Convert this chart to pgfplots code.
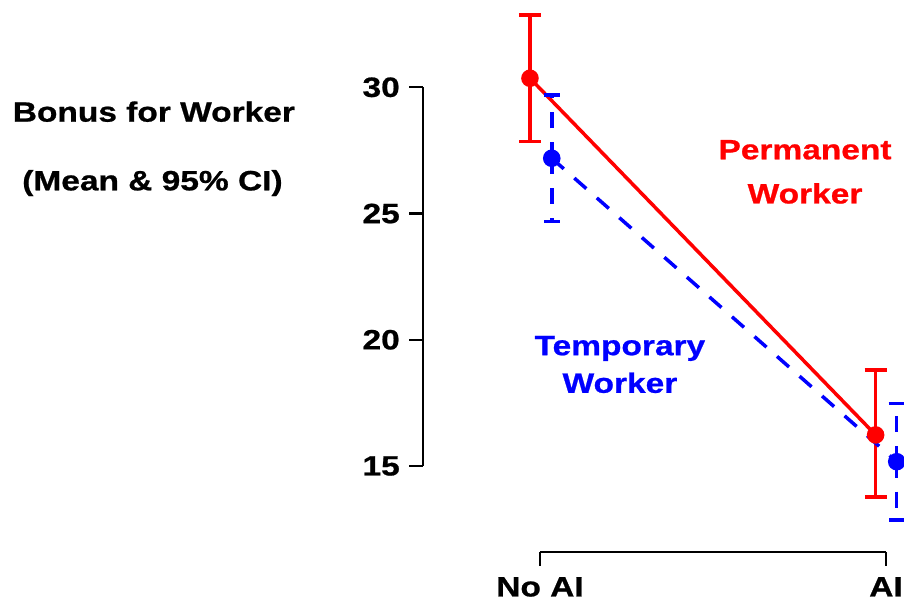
\documentclass[border=0pt]{standalone}
\usepackage{fontspec}
\setmainfont{Liberation Sans}[FakeStretch=1.2, BoldFeatures={FakeBold=0.8}]
\usepackage{pgfplots}
\pgfplotsset{compat=1.18}
\newcommand\F{\fontsize{28}{34}\selectfont\bfseries}
\begin{document}
\begin{tikzpicture}
\useasboundingbox (-423.3bp,-50.3bp) rectangle (480.7bp,551.7bp);
\begin{axis}[
 at={(0,0)}, anchor=south west, scale only axis,
 width=480.7bp, height=551.7bp,
 xmin=-0.3373, xmax=1.052, ymin=11.605, ymax=33.459,
 axis x line*=bottom, axis y line*=left,
 axis line style={draw=none},
 xtick={0,1}, xticklabels={No AI, AI},
 ytick={15,20,25,30},
 tick align=outside,
 major tick length=14bp,
 tick style={black, line width=2.2bp},
 tick label style={font=\F},
 yticklabel style={xshift=-6bp},
 xticklabel style={yshift=-8bp},
 /pgf/number format/assume math mode=true,
 clip=false,
 minor tick num=0,
]
\addplot[red, line width=3.5bp, mark=*, mark size=7bp,
  error bars/.cd, y dir=both, y explicit, error mark=|,
  error bar style={line width=3.5bp},
  error mark options={red, line width=3.5bp, mark size=11bp}]
  coordinates {(-0.029,30.36) +- (0,2.5) (0.970,16.23) += (0,2.57) -= (0,2.45)};
\addplot[blue, line width=3.5bp, dash pattern=on 16bp off 14bp, mark=*, mark size=7bp, mark options={solid},
  error bars/.cd, y dir=both, y explicit, error mark=|,
  error bar style={line width=3.5bp, dash pattern=on 16bp off 14bp},
  error mark options={blue, solid, line width=3.5bp, mark size=8bp}]
  coordinates {(0.034,27.19) +- (0,2.5) (1.031,15.17) +- (0,2.3)};
\draw[black, line width=2.2bp] (axis cs:-0.3373,15) -- (axis cs:-0.3373,30);
\draw[black, line width=2.2bp] (axis cs:0,11.605) -- (axis cs:1,11.605);
\node[red, font=\F, anchor=base] at (axis cs:0.766,27.15) {Permanent};
\node[red, font=\F, anchor=base] at (axis cs:0.766,25.40) {Worker};
\node[blue, font=\F, anchor=base] at (axis cs:0.231,19.39) {Temporary};
\node[blue, font=\F, anchor=base] at (axis cs:0.231,17.90) {Worker};
\node[black, font=\F, anchor=base] at (axis cs:-1.116,28.64) {Bonus for Worker};
\node[black, font=\F, anchor=base] at (axis cs:-1.120,25.92) {(Mean \& 95\% CI)};
\end{axis}
\end{tikzpicture}
\end{document}
